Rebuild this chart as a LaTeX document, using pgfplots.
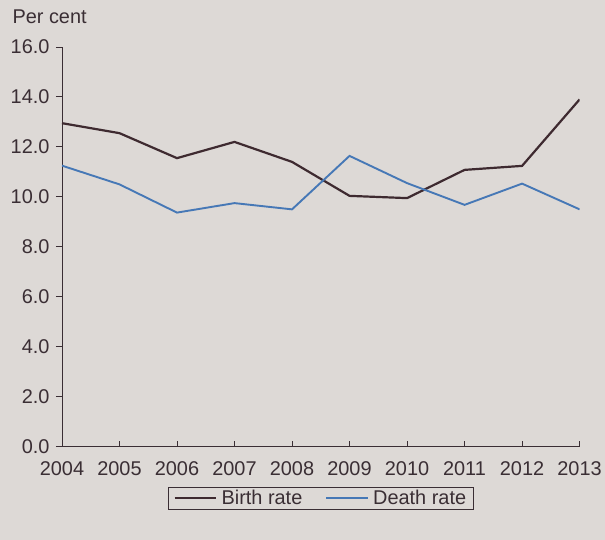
\documentclass[border=0pt]{standalone}
\usepackage{pgfplots}
\pgfplotsset{compat=1.18}
\usepackage{fontspec}
\setmainfont{Liberation Sans}
\definecolor{bg}{RGB}{221,217,214}
\definecolor{txt}{RGB}{58,46,52}
\definecolor{birth}{RGB}{62,42,48}
\definecolor{death}{RGB}{70,120,182}
\begin{document}
\begin{tikzpicture}[every node/.style={text=txt}]
\fill[bg] (-62bp,-93bp) rectangle (543bp,447bp);
\begin{axis}[
  at={(0,0)}, anchor=south west,
  scale only axis, width=518bp, height=400bp,
  xmin=2004, xmax=2013, ymin=0, ymax=16,
  axis x line=bottom, axis y line=left,
  axis line style={-, draw=txt, line width=0.9bp},
  xtick={2004,...,2013}, ytick={0,2,...,16},
  /pgf/number format/assume math mode=true,
  x tick label style={/pgf/number format/1000 sep={}, yshift=-11bp},
  y tick label style={/pgf/number format/fixed, /pgf/number format/fixed zerofill, /pgf/number format/precision=1, xshift=-9bp},
  tick align=inside, major tick length=6bp,
  tick style={draw=txt, line width=0.9bp},
  ytick style={xshift=-6bp},
  font=\fontsize{20}{24}\selectfont,
  legend columns=2,
  legend style={at={(0.5,-0.1)}, anchor=north, draw=txt, line width=0.9bp, fill=none,
    font=\fontsize{20}{24}\selectfont, inner xsep=5bp, inner ysep=1bp, text=txt,
    /tikz/every odd column/.append style={column sep=2bp},
    /tikz/every even column/.append style={column sep=21bp}},
  legend image code/.code={\draw[#1] (0cm,0cm) -- (42bp,0cm);},
]
\addplot[birth, line width=2.2bp] coordinates {
(2004,12.95) (2005,12.55) (2006,11.55) (2007,12.2) (2008,11.4)
(2009,10.04) (2010,9.95) (2011,11.08) (2012,11.24) (2013,13.9)};
\addlegendentry{Birth rate}
\addplot[death, line width=1.9bp] coordinates {
(2004,11.25) (2005,10.5) (2006,9.37) (2007,9.75) (2008,9.5)
(2009,11.64) (2010,10.55) (2011,9.68) (2012,10.53) (2013,9.5)};
\addlegendentry{Death rate}
\end{axis}
\node[anchor=base west, font=\fontsize{20}{24}\selectfont] at (-53bp,423bp) {Per cent};
\end{tikzpicture}
\end{document}
